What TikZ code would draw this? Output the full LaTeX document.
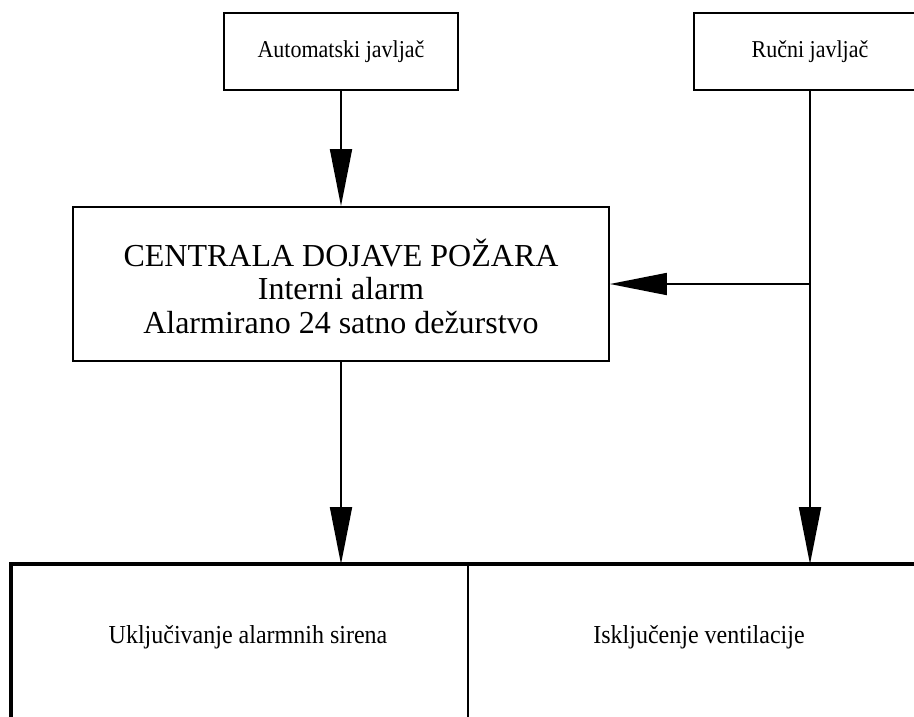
\documentclass[tikz,border=0pt]{standalone}
\usepackage{fontspec}
\setmainfont{Liberation Serif}
\usetikzlibrary{positioning, fit, arrows.meta, calc}

\begin{document}
\begin{tikzpicture}[x=1pt, y=-1pt, line width=1.8pt,
		>={Triangle[length=57pt,width=22pt]},
		box/.style={draw, inner sep=0pt},
		small/.style={font=\fontsize{22}{26}\selectfont, yscale=1.1, transform shape},
		mid/.style={font=\fontsize{24}{28}\selectfont, yscale=1.08, transform shape},
		big/.style={font=\fontsize{32}{33.5}\selectfont, align=center}
		]
		\useasboundingbox (0,0) rectangle (914,716);
		\clip (0,0) rectangle (914,716);

		% Javljaci
		\node[box, fit={(224,13) (458,90)},
			label={[small]center:{Automatski javljač}}
			] (auto) {};
		\node[box, fit={(694,13) (926,90)},
			label={[small]center:{Ručni javljač}}
			] (rucni) {};

		% Centrala
		\node[box, fit={(73,207) (609,361)},
			label={[big, yshift=-2pt]center:{CENTRALA DOJAVE POŽARA\\Interni alarm\\Alarmirano 24 satno dežurstvo}}
			] (centrala) {};

		% Izlazi
		\node[box, fit={(12,565) (468,740)},
			label={[mid, xshift=8pt, yshift=14pt]center:{Uključivanje alarmnih sirena}}
			] (sirene) {};
		\node[box, fit={(468,565) (930,740)},
			label={[mid, yshift=14pt]center:{Isključenje ventilacije}}
			] (vent) {};
		\draw[line width=3.5pt] (sirene.south west) -- (sirene.north west) -- (vent.north east);

		% Veze
		\coordinate (grana) at (rucni.south |- centrala.east);
		\draw[->] (auto) -- (centrala);
		\draw[->] (centrala.south) -- (centrala.south |- sirene.north);
		\draw[->] (rucni.south) -- (rucni.south |- vent.north);
		\draw[->] (grana) -- (centrala.east);
	\end{tikzpicture}
\end{document}
